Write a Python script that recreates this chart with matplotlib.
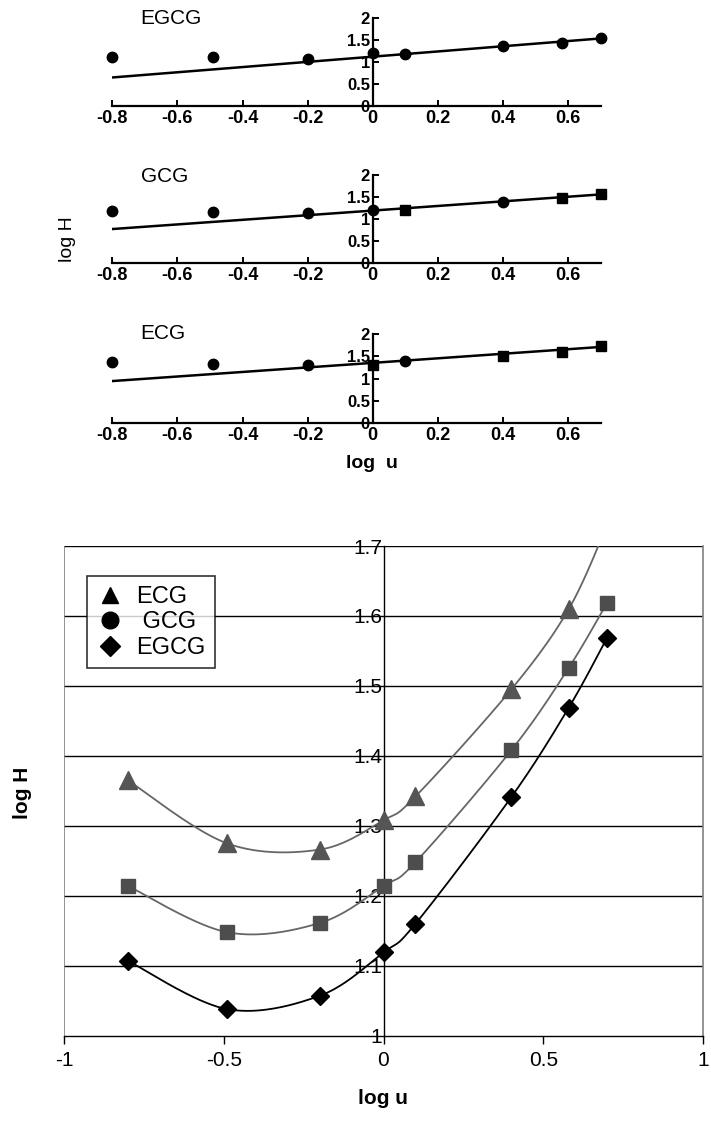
import numpy as np
import matplotlib
matplotlib.use("Agg")
import matplotlib.pyplot as plt
from matplotlib.lines import Line2D

plt.rcParams['font.family'] = ['Liberation Sans', 'DejaVu Sans']

# ---- data: small panels (regression plots) ----
log_u = [-0.8, -0.49, -0.2, 0.0, 0.1, 0.4, 0.58, 0.7]

egcg_top = [1.106, 1.106, 1.075, 1.20, 1.17, 1.36, 1.436, 1.53]
egcg_top_mk = ['o', 'o', 'o', 'o', 'o', 'o', 'o', 'o']
egcg_fit = [0.65, 1.53]

gcg_top = [1.19, 1.16, 1.145, 1.20, 1.205, 1.38, 1.485, 1.57]
gcg_top_mk = ['o', 'o', 'o', 'o', 's', 'o', 's', 's']
gcg_fit = [0.776, 1.56]

ecg_top = [1.38, 1.327, 1.30, 1.30, 1.40, 1.506, 1.59, 1.73]
ecg_top_mk = ['o', 'o', 'o', 's', 'o', 's', 's', 's']
ecg_fit = [0.946, 1.71]

top_xticks = [-0.8, -0.6, -0.4, -0.2, 0, 0.2, 0.4, 0.6]
top_xlabels = ['-0.8', '-0.6', '-0.4', '-0.2', '0', '0.2', '0.4', '0.6']
top_yticks = [0, 0.5, 1, 1.5, 2]
top_ylabels = ['0', '0.5', '1', '1.5', '2']

# ---- data: main plot ----
ecg_main = [1.365, 1.275, 1.266, 1.308, 1.342, 1.495, 1.61, 1.73]
gcg_main = [1.214, 1.148, 1.161, 1.214, 1.248, 1.408, 1.526, 1.619]
egcg_main = [1.107, 1.038, 1.057, 1.119, 1.16, 1.341, 1.469, 1.569]

main_xticks = [-1, -0.5, 0, 0.5, 1]
main_xlabels = ['-1', '-0.5', '0', '0.5', '1']
main_yticks = [1.0, 1.1, 1.2, 1.3, 1.4, 1.5, 1.6, 1.7]
main_ylabels = ['1', '1.1', '1.2', '1.3', '1.4', '1.5', '1.6', '1.7']


def smooth(x, y, n=40):
    # Bezier smoothing through the points (spreadsheet-style smoothed line)
    pts = np.column_stack([x, y]).astype(float)
    ext = np.vstack([pts[0], pts, pts[-1]])
    segs = []
    t = np.linspace(0, 1, n)[:, None]
    for i in range(len(pts) - 1):
        p0, p1, p2, p3 = ext[i], ext[i + 1], ext[i + 2], ext[i + 3]
        c1 = p1 + (p2 - p0) / 6
        c2 = p2 - (p3 - p1) / 6
        segs.append((1 - t) ** 3 * p1 + 3 * (1 - t) ** 2 * t * c1
                    + 3 * (1 - t) * t ** 2 * c2 + t ** 3 * p2)
    s = np.vstack(segs)
    return s[:, 0], s[:, 1]


fig = plt.figure(figsize=(7.11, 11.30), dpi=100)
W, H = 711.0, 1130.0


def top_panel(y0, y2, vals, mks, fit, name, name_xy):
    ax = fig.add_axes([112.3 / W, 1 - y0 / H, 488.3 / W, (y0 - y2) / H])
    ax.set_xlim(-0.8, 0.7)
    ax.set_ylim(0, 2)
    ax.patch.set_alpha(0)
    ax.spines['left'].set_position(('data', 0))
    ax.spines['top'].set_visible(False)
    ax.spines['right'].set_visible(False)
    for s in ('left', 'bottom'):
        ax.spines[s].set_linewidth(1.6)
    ax.plot([-0.8, 0.7], fit, color='black', lw=1.8, zorder=2)
    for x, y, m in zip(log_u, vals, mks):
        ax.plot(x, y, marker=m, ms=7.5, color='black', ls='none',
                zorder=3, clip_on=False)
    ax.set_xticks(top_xticks)
    ax.set_xticklabels(top_xlabels, fontsize=13, fontweight='bold')
    ax.set_yticks(top_yticks)
    ax.set_yticklabels(top_ylabels, fontsize=12, fontweight='bold')
    ax.tick_params(axis='x', direction='in', length=4, width=1.4, pad=3)
    ax.tick_params(axis='y', direction='in', length=4, width=1.4, pad=2)
    fig.text(name_xy[0] / W, 1 - name_xy[1] / H, name, fontsize=15,
             ha='center', va='center')
    return ax


top_panel(106.3, 17.6, egcg_top, egcg_top_mk, egcg_fit, 'EGCG', (171, 19))
top_panel(263.3, 175.0, gcg_top, gcg_top_mk, gcg_fit, 'GCG', (165, 176))
top_panel(423.3, 334.0, ecg_top, ecg_top_mk, ecg_fit, 'ECG', (163, 334))

fig.text(68 / W, 1 - 239 / H, 'log H', rotation=90, fontsize=14,
         ha='center', va='center')
fig.text(372 / W, 1 - 463 / H, 'log  u', fontsize=14, fontweight='bold',
         ha='center', va='center')

# ---- main plot ----
ax = fig.add_axes([64 / W, 1 - 1035.7 / H, 639 / W, 489.7 / H])
ax.set_xlim(-1, 1)
ax.set_ylim(1.0, 1.7)

for yv in main_yticks[1:]:
    ax.axhline(yv, color='black', lw=1.0, zorder=1)
ax.axvline(-1, color='#808080', lw=1.2, zorder=1)

ax.spines['left'].set_position(('data', 0))
ax.spines['left'].set_linewidth(1.0)
ax.spines['right'].set_color('#808080')
ax.spines['right'].set_linewidth(1.2)
ax.spines['top'].set_visible(False)
ax.spines['bottom'].set_linewidth(1.0)

series = [
    (ecg_main, '^', '#555555', '#666666', 13),
    (gcg_main, 's', '#4d4d4d', '#666666', 10.5),
    (egcg_main, 'D', '#000000', '#000000', 9.5),
]
for vals, mk, mc, lc, ms in series:
    sx, sy = smooth(log_u, vals)
    ax.plot(sx, sy, color=lc, lw=1.3, zorder=3)
    ax.plot(log_u, vals, marker=mk, ms=ms, color=mc, ls='none', zorder=4)

ax.set_xticks(main_xticks)
ax.set_xticklabels(main_xlabels, fontsize=15)
ax.set_yticks(main_yticks)
ax.set_yticklabels(main_ylabels, fontsize=15)
ax.tick_params(axis='x', direction='out', length=6, width=1.0, pad=5)
ax.tick_params(axis='y', direction='out', length=0, pad=1)
for lab in ax.get_yticklabels():
    lab.set_zorder(5)

ax.set_xlabel('log u', fontsize=15, fontweight='bold', labelpad=14)
fig.text(23 / W, 1 - 793 / H, 'log H', rotation=90, fontsize=15,
         fontweight='bold', ha='center', va='center')

handles = [
    Line2D([], [], marker='^', color='black', ls='none', ms=12),
    Line2D([], [], marker='o', color='black', ls='none', ms=12),
    Line2D([], [], marker='D', color='black', ls='none', ms=10),
]
leg = ax.legend(handles, ['ECG', ' GCG', 'EGCG'], loc='upper left',
                bbox_to_anchor=(0.017, 0.962), fontsize=17, frameon=True,
                fancybox=False, edgecolor='black', handletextpad=0.5,
                borderpad=0.4, labelspacing=0.15, handlelength=1.2)
leg.get_frame().set_linewidth(1.2)
leg.set_zorder(6)

fig.savefig('out.png', dpi=100)
